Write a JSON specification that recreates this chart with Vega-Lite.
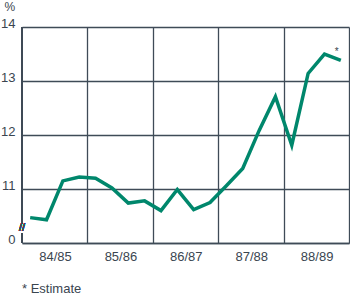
{
  "$schema": "https://vega.github.io/schema/vega-lite/v6.json",
  "width": 327,
  "height": 216,
  "autosize": "none",
  "padding": {"left": 22, "top": 27, "right": 1, "bottom": 52},
  "background": "white",
  "config": {
    "view": {"stroke": null},
    "font": "Liberation Sans",
    "axis": {
      "gridColor": "#3f4b57",
      "gridWidth": 1.3,
      "gridOpacity": 1,
      "domainColor": "#3f4b57",
      "domainWidth": 1.3,
      "labelColor": "#3a4550",
      "labelFont": "Liberation Sans",
      "labelFontSize": 13,
      "labelFlush": false,
      "ticks": false
    }
  },
  "title": {
    "text": "*  Estimate",
    "orient": "bottom",
    "anchor": "start",
    "frame": "group",
    "offset": 20,
    "fontSize": 13,
    "fontWeight": "normal",
    "font": "Liberation Sans",
    "color": "#3a4550"
  },
  "data": {
    "values": [
      {"t": 0.125, "v": 10.47, "note": ""},
      {"t": 0.375, "v": 10.43, "note": ""},
      {"t": 0.625, "v": 11.15, "note": ""},
      {"t": 0.875, "v": 11.22, "note": ""},
      {"t": 1.125, "v": 11.20, "note": ""},
      {"t": 1.375, "v": 11.02, "note": ""},
      {"t": 1.625, "v": 10.74, "note": ""},
      {"t": 1.875, "v": 10.78, "note": ""},
      {"t": 2.125, "v": 10.60, "note": ""},
      {"t": 2.375, "v": 10.99, "note": ""},
      {"t": 2.625, "v": 10.62, "note": ""},
      {"t": 2.875, "v": 10.75, "note": ""},
      {"t": 3.125, "v": 11.06, "note": ""},
      {"t": 3.375, "v": 11.38, "note": ""},
      {"t": 3.625, "v": 12.08, "note": ""},
      {"t": 3.875, "v": 12.71, "note": ""},
      {"t": 4.125, "v": 11.81, "note": ""},
      {"t": 4.375, "v": 13.14, "note": ""},
      {"t": 4.625, "v": 13.50, "note": ""},
      {"t": 4.875, "v": 13.38, "note": "*"}
    ]
  },
  "layer": [
    {
      "mark": {"type": "line", "color": "#00876c", "strokeWidth": 3.5, "strokeJoin": "miter", "strokeCap": "butt"},
      "encoding": {
        "x": {
          "field": "t", "type": "quantitative",
          "scale": {"domain": [0, 5], "nice": false, "zero": false},
          "axis": {
            "values": [0, 1, 2, 3, 4, 5],
            "grid": true,
            "domain": true,
            "title": null,
            "labelOffset": 33,
            "labelPadding": 7,
            "labelAlign": "center",
            "labelExpr": "datum.value == 0 ? '84/85' : datum.value == 1 ? '85/86' : datum.value == 2 ? '86/87' : datum.value == 3 ? '87/88' : datum.value == 4 ? '88/89' : ''",
            "gridOpacity": {"condition": {"test": "datum.value == 0", "value": 0}, "value": 1}
          }
        },
        "y": {
          "field": "v", "type": "quantitative",
          "scale": {"domain": [10, 14], "nice": false, "zero": false},
          "axis": {
            "values": [10, 11, 12, 13, 14],
            "grid": true,
            "domain": false,
            "title": "%",
            "titleAngle": 0,
            "titleAlign": "left",
            "titleBaseline": "top",
            "titleX": -18,
            "titleY": -26,
            "titleFontSize": 12,
            "titleFontWeight": "normal",
            "titleColor": "#3a4550",
            "titleFont": "Liberation Sans",
            "labelPadding": 7,
            "labelOffset": -4,
            "labelExpr": "datum.value == 10 ? '0' : format(datum.value, 'd')"
          }
        }
      }
    },
    {
      "mark": {"type": "rule", "color": "#3f4b57", "strokeWidth": 1.3},
      "encoding": {"x": {"datum": 0}, "y": {"datum": 10.36}, "y2": {"datum": 14}}
    },
    {
      "mark": {"type": "rule", "color": "#3f4b57", "strokeWidth": 1.3},
      "encoding": {"x": {"datum": 0}, "y": {"datum": 10}, "y2": {"datum": 10.18}}
    },
    {
      "mark": {"type": "text", "text": "//", "fontSize": 11, "color": "#3f4b57", "align": "center", "baseline": "middle"},
      "encoding": {"x": {"datum": 0}, "y": {"datum": 10.27}}
    },
    {
      "transform": [{"filter": "datum.note != ''"}],
      "mark": {"type": "text", "fontSize": 10, "color": "#3a4550", "dx": -4, "dy": -8},
      "encoding": {
        "x": {"field": "t", "type": "quantitative"},
        "y": {"field": "v", "type": "quantitative"},
        "text": {"field": "note"}
      }
    }
  ]
}
